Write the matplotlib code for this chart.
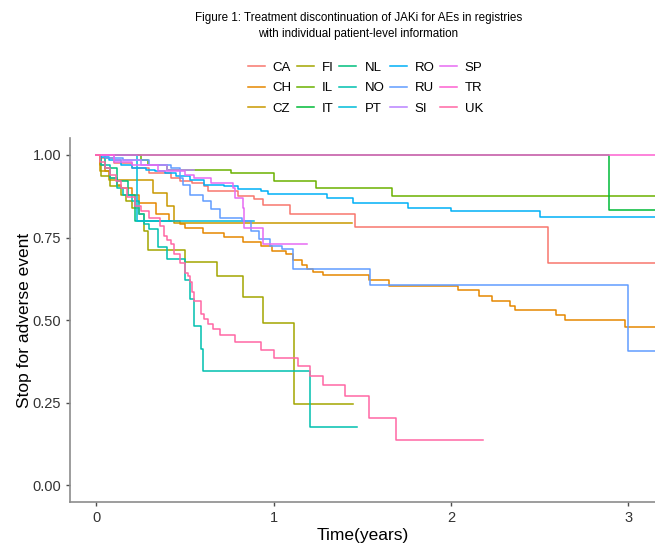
import matplotlib
matplotlib.use("Agg")
import matplotlib.pyplot as plt

plt.rcParams['font.family'] = ['Liberation Sans', 'DejaVu Sans']

# country order (legend order) and ggplot hue colours
countries = ['CA', 'CH', 'CZ', 'FI', 'IL', 'IT', 'NL', 'NO', 'PT', 'RO', 'RU', 'SI', 'SP', 'TR', 'UK']
colors = ['#F8766D', '#E58700', '#C99800', '#A3A500', '#6BB100', '#00BA38', '#00BF7D', '#00C0AF',
          '#00BCD8', '#00B0F6', '#619CFF', '#B983FF', '#E76BF3', '#FD61D1', '#FF67A4']

# survival curves: event times (years) and survival after each
CA_time = [0, 0.03, 0.1, 0.2, 0.3, 0.42, 0.475, 0.54, 0.61, 0.63, 0.80, 0.89, 0.94, 1.09, 1.46, 2.545]
CA_surv = [1, 0.99, 0.975, 0.96, 0.945, 0.93, 0.92, 0.915, 0.905, 0.89, 0.875, 0.867, 0.85, 0.822, 0.783, 0.672]
CA_end = 3.15

CH_time = [0, 0.02, 0.05, 0.08, 0.12, 0.14, 0.2, 0.24, 0.34, 0.41, 0.47, 0.5, 0.6, 0.72, 0.83, 0.93, 0.99,
           1.07, 1.11, 1.16, 1.19, 1.22, 1.28, 1.54, 1.65, 2.04, 2.16, 2.23, 2.33, 2.36, 2.59, 2.64, 2.98]
CH_surv = [1, 0.97, 0.95, 0.93, 0.91, 0.90, 0.88, 0.855, 0.82, 0.80, 0.79, 0.78, 0.765, 0.753, 0.735, 0.723, 0.708,
           0.70, 0.683, 0.668, 0.654, 0.645, 0.636, 0.62, 0.603, 0.59, 0.573, 0.557, 0.543, 0.53, 0.516, 0.50, 0.48]
CH_end = 3.15

CZ_time = [0, 0.02, 0.07, 0.32, 0.40, 0.44]
CZ_surv = [1, 0.95, 0.925, 0.885, 0.845, 0.793]
CZ_end = 1.44

FI_time = [0, 0.03, 0.08, 0.14, 0.17, 0.2, 0.24, 0.27, 0.29, 0.50, 0.68, 0.83, 0.94, 1.115]
FI_surv = [1, 0.935, 0.905, 0.88, 0.86, 0.84, 0.82, 0.77, 0.712, 0.675, 0.633, 0.569, 0.49, 0.245]
FI_end = 1.45

IL_time = [0, 0.25, 0.29, 0.40, 0.76, 1.0, 1.24, 1.67]
IL_surv = [1, 0.985, 0.97, 0.955, 0.945, 0.922, 0.90, 0.876]
IL_end = 3.15

IT_time = [0, 2.89]
IT_surv = [1, 0.834]
IT_end = 3.15

NL_time = [0, 0.05, 0.12, 0.18, 0.22]
NL_surv = [1, 0.96, 0.92, 0.88, 0.80]
NL_end = 0.42

NO_time = [0, 0.03, 0.08, 0.12, 0.15, 0.2, 0.24, 0.27, 0.3, 0.35, 0.40, 0.50, 0.53, 0.55, 0.59, 0.605, 1.205]
NO_surv = [1, 0.97, 0.93, 0.90, 0.88, 0.86, 0.82, 0.79, 0.775, 0.72, 0.684, 0.62, 0.563, 0.483, 0.413, 0.347, 0.175]
NO_end = 1.47

PT_time = [0, 0.23]
PT_surv = [1, 0.80]
PT_end = 0.89

RO_time = [0, 0.03, 0.07, 0.14, 0.2, 0.28, 0.33, 0.39, 0.45, 0.53, 0.61, 0.72, 0.80, 0.93, 0.97, 1.30, 1.45,
           1.76, 2.0, 2.5]
RO_surv = [1, 0.995, 0.985, 0.97, 0.96, 0.955, 0.95, 0.945, 0.935, 0.925, 0.91, 0.905, 0.897, 0.89, 0.883, 0.87,
           0.855, 0.84, 0.83, 0.813]
RO_end = 3.15

RU_time = [0, 0.05, 0.15, 0.3, 0.42, 0.47, 0.49, 0.53, 0.6, 0.65, 0.7, 0.82, 0.87, 0.92, 0.98, 1.05, 1.11,
           1.545, 3.0]
RU_surv = [1, 0.99, 0.985, 0.97, 0.96, 0.93, 0.91, 0.88, 0.86, 0.835, 0.81, 0.80, 0.77, 0.745, 0.725, 0.715, 0.655,
           0.606, 0.406]
RU_end = 3.15

SI_time = [0, 0.1, 0.25, 0.4]
SI_surv = [1, 0.985, 0.97, 0.955]
SI_end = 0.55

SP_time = [0, 0.1, 0.2, 0.35, 0.5, 0.55, 0.65, 0.77, 0.78, 0.83, 0.835, 0.94]
SP_surv = [1, 0.98, 0.97, 0.95, 0.94, 0.93, 0.915, 0.90, 0.87, 0.84, 0.78, 0.73]
SP_end = 1.19

TR_time = [0]
TR_surv = [1]
TR_end = 3.15

UK_time = [0, 0.02, 0.05, 0.08, 0.11, 0.14, 0.175, 0.22, 0.25, 0.3, 0.36, 0.38, 0.40, 0.42, 0.436, 0.475, 0.50,
           0.52, 0.53, 0.54, 0.55, 0.59, 0.61, 0.63, 0.66, 0.70, 0.785, 0.93, 1.0, 1.14, 1.205, 1.28, 1.40,
           1.54, 1.69]
UK_surv = [1, 0.98, 0.96, 0.94, 0.92, 0.90, 0.873, 0.845, 0.83, 0.81, 0.784, 0.754, 0.744, 0.73, 0.70, 0.674, 0.644,
           0.633, 0.614, 0.584, 0.558, 0.518, 0.503, 0.488, 0.473, 0.455, 0.433, 0.41, 0.386, 0.361, 0.332, 0.302, 0.27,
           0.204, 0.136]
UK_end = 2.18

times = [CA_time, CH_time, CZ_time, FI_time, IL_time, IT_time, NL_time, NO_time, PT_time, RO_time, RU_time,
         SI_time, SP_time, TR_time, UK_time]
survs = [CA_surv, CH_surv, CZ_surv, FI_surv, IL_surv, IT_surv, NL_surv, NO_surv, PT_surv, RO_surv, RU_surv,
         SI_surv, SP_surv, TR_surv, UK_surv]
ends = [CA_end, CH_end, CZ_end, FI_end, IL_end, IT_end, NL_end, NO_end, PT_end, RO_end, RU_end,
        SI_end, SP_end, TR_end, UK_end]

fig = plt.figure(figsize=(6.55, 5.43), dpi=100)
ax = fig.add_axes([0.107, 0.076, 0.893, 0.669])

for name, t, s, e, c in zip(countries, times, survs, ends, colors):
    ax.step(t + [e], s + [s[-1]], where='post', color=c, lw=1.1, label=name)

ax.set_xlim(-0.147, 3.15)
ax.set_ylim(-0.05, 1.05)
ax.set_xticks([0, 1, 2, 3])
ax.set_yticks([0, 0.25, 0.5, 0.75, 1.0])
ax.set_yticklabels(['0.00', '0.25', '0.50', '0.75', '1.00'])
for sp in ['top', 'right']:
    ax.spines[sp].set_visible(False)
for sp in ['left', 'bottom']:
    ax.spines[sp].set_color('#8c8c8c')
    ax.spines[sp].set_linewidth(1.2)
ax.tick_params(colors='#4d4d4d', labelsize=10.5, length=3, width=1)
ax.tick_params(axis='both', labelcolor='#333333')
ax.set_xlabel('Time(years)', fontsize=12.5, labelpad=2)
ax.set_ylabel('Stop for adverse event', fontsize=12.5, labelpad=0.5)

fig.text(0.547, 0.978, 'Figure 1: Treatment discontinuation of JAKi for AEs in registries\n'
         'with individual patient-level information', ha='center', va='top', fontsize=8.4,
         linespacing=1.5)

fig.legend(loc='upper left', bbox_to_anchor=(0.368, 0.899), ncol=5, frameon=False, fontsize=9.5,
           borderpad=0, handlelength=1.3, columnspacing=0.4, handletextpad=0.6, labelspacing=0.64)

fig.savefig('out.png', dpi=100)
